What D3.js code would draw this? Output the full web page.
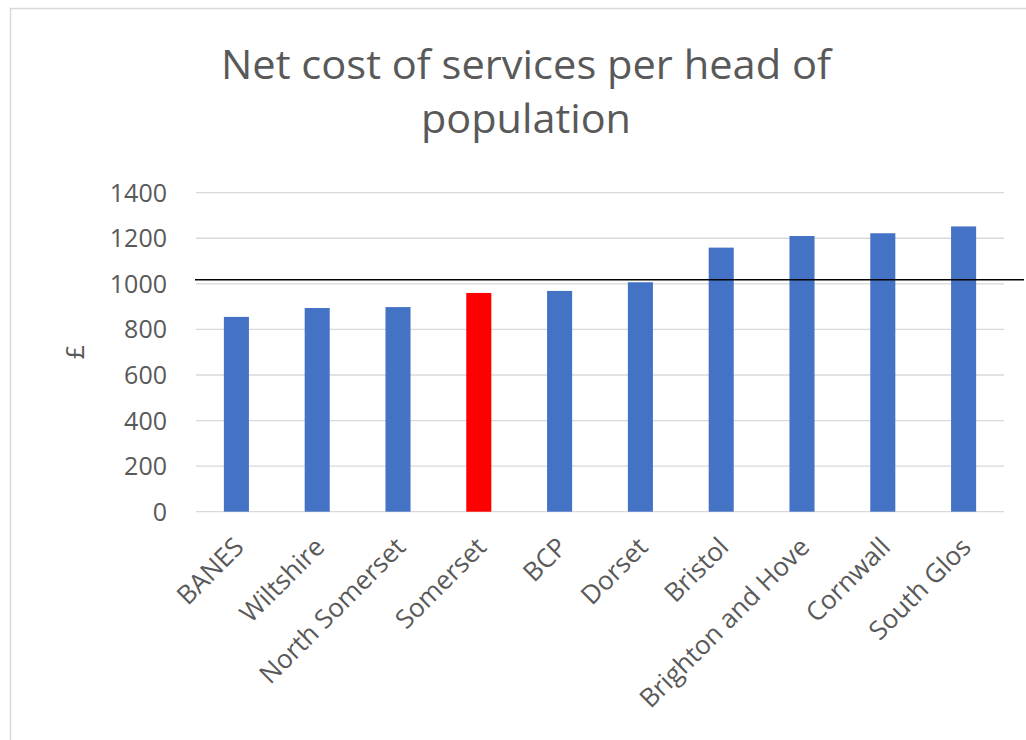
<!DOCTYPE html>
<html lang="en">
<head>
    <meta charset="UTF-8">
    <title>Net cost of services per head of population</title>
    <style>
        body { margin: 0; background: #fff; }
        #chart text { font-family: "Open Sans", sans-serif; fill: #595959; }
    </style>
    <script src="https://d3js.org/d3.v7.min.js"></script>
</head>
<body>
    <div id="chart"></div>
    <script>
        // values
        const councils = ["BANES", "Wiltshire", "North Somerset", "Somerset", "BCP",
            "Dorset", "Bristol", "Brighton and Hove", "Cornwall", "South Glos"];
        const netCost = [855, 894, 898, 960, 969, 1007, 1159, 1210, 1222, 1252];
        const averageCost = 1018;
        const yTicks = [0, 200, 400, 600, 800, 1000, 1200, 1400];
        const highlight = "Somerset";

        const W = 1026, H = 740;
        const margin = { top: 192.7, right: 22, bottom: 228.3, left: 196 };
        const width = W - margin.left - margin.right;
        const height = H - margin.top - margin.bottom;

        const svg = d3.select("#chart").append("svg")
            .attr("width", W)
            .attr("height", H);

        // chart area border
        svg.append("rect")
            .attr("x", 10.5).attr("y", 8.5)
            .attr("width", 1200).attr("height", 900)
            .attr("fill", "none")
            .attr("stroke", "#d9d9d9")
            .attr("stroke-width", 1.5);

        // title
        const title = svg.append("text")
            .attr("text-anchor", "middle")
            .style("font-size", "41px");
        title.append("tspan").attr("x", 526).attr("y", 79)
            .attr("textLength", 610).attr("lengthAdjust", "spacingAndGlyphs")
            .text("Net cost of services per head of");
        title.append("tspan").attr("x", 526).attr("y", 133)
            .attr("textLength", 210).attr("lengthAdjust", "spacingAndGlyphs")
            .text("population");

        const g = svg.append("g")
            .attr("transform", `translate(${margin.left},${margin.top})`);

        const x = d3.scaleBand()
            .domain(councils)
            .range([0, width])
            .paddingInner(0.69)
            .paddingOuter(0.345);

        const y = d3.scaleLinear()
            .domain([0, 1400])
            .range([height, 0]);

        // gridlines
        g.append("g")
            .selectAll("line")
            .data(yTicks)
            .join("line")
            .attr("x1", 0).attr("x2", width)
            .attr("y1", d => y(d)).attr("y2", d => y(d))
            .attr("stroke", "#d9d9d9")
            .attr("stroke-width", 1.3);

        // y axis labels
        const yAxis = d3.axisLeft(y).tickValues(yTicks).tickFormat(d3.format("d"))
            .tickSize(0).tickPadding(29);
        g.append("g").call(yAxis)
            .call(a => a.select(".domain").remove())
            .selectAll("text")
            .style("font-size", "25px")
            .attr("dy", "0.34em");

        // bars
        g.selectAll(".bar")
            .data(councils)
            .join("rect")
            .attr("class", "bar")
            .attr("x", d => x(d))
            .attr("width", x.bandwidth())
            .attr("y", (d, i) => y(netCost[i]))
            .attr("height", (d, i) => height - y(netCost[i]))
            .attr("fill", d => d === highlight ? "#ff0000" : "#4472c4");

        // average line
        g.append("line")
            .attr("x1", -1).attr("x2", W - margin.left - 2)
            .attr("y1", y(averageCost)).attr("y2", y(averageCost))
            .attr("stroke", "#000")
            .attr("stroke-width", 1.6);

        // x labels
        g.append("g")
            .selectAll("text")
            .data(councils)
            .join("text")
            .attr("text-anchor", "end")
            .attr("transform", d => `translate(${x(d) + x.bandwidth() / 2 + 9},${height + 37}) rotate(-45)`)
            .style("font-size", "26px")
            .text(d => d);

        // y axis title
        svg.append("text")
            .attr("text-anchor", "middle")
            .attr("transform", "translate(84,352) rotate(-90)")
            .style("font-size", "25px")
            .text("£");
    </script>
</body>
</html>
